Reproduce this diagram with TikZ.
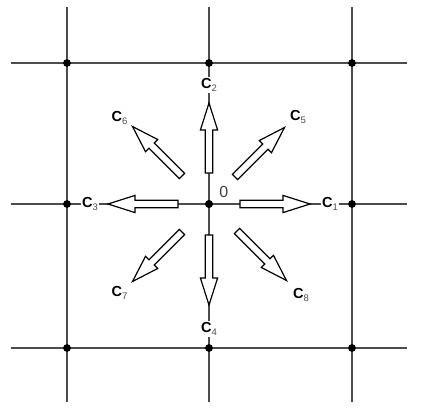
\documentclass[tikz,border=0pt]{standalone}
\usepackage{fontspec}
\setmainfont{Liberation Sans}
\newcommand{\clab}[1]{C\raisebox{-3.4pt}{\fontsize{9.5}{9.5}\selectfont\mdseries\color{black!70}#1}}
\begin{document}
\begin{tikzpicture}[x=1pt,y=-1pt,
  gridline/.style={draw=black!70, line width=1.1pt},
  dot/.style={circle, fill=black, inner sep=0pt, minimum size=7.8pt},
  blk/.style={draw=black, fill=white, line width=1.2pt, line join=miter},
  lab/.style={fill=white, inner sep=0.8pt, font=\fontsize{14.5}{14.5}\selectfont\bfseries},
  zerolab/.style={inner sep=0pt, text=black!75, font=\fontsize{16}{16}\selectfont},
  blockarrow/.pic={\path[blk] (0,-3.7) -- (43,-3.7) -- (43,-8.6) -- (70,0) -- (43,8.6) -- (43,3.7) -- (0,3.7) -- cycle;}]
\useasboundingbox (0,0) rectangle (421,418);
% grid line ends
\foreach \n/\x in {a/67,b/209,c/352}{
  \coordinate (v\n top) at (\x,7);
  \coordinate (v\n bot) at (\x,402);
}
\foreach \n/\y in {a/63,b/204,c/348}{
  \coordinate (h\n left) at (11,\y);
  \coordinate (h\n right) at (407,\y);
}
\foreach \n in {a,b,c}{
  \draw[gridline] (v\n top) -- (v\n bot);
  \draw[gridline] (h\n left) -- (h\n right);
}
% intersection dots
\foreach \n/\x in {a/67,b/209,c/352}{
  \foreach \m/\y in {a/63,b/204,c/348}{
    \node[dot] (d\n\m) at (\x,\y) {};
  }
}
% block arrows
\pic[rotate=0]   at (240,204) {blockarrow};
\pic[rotate=90]  at (209,173) {blockarrow};
\pic[rotate=180] at (178,204) {blockarrow};
\pic[rotate=-90] at (209,235) {blockarrow};
\pic[rotate=45]  at (235,177) {blockarrow};
\pic[rotate=135] at (182,176) {blockarrow};
\pic[rotate=225] at (182,232) {blockarrow};
\pic[rotate=-45] at (237,231) {blockarrow};
% centre dot redrawn on top
\node[dot] (o) at (209,204) {};
% labels
\node[lab] (c1) at (330,204) {\clab{1}};
\node[lab] (c2) at (209,85) {\clab{2}};
\node[lab] (c3) at (90,204) {\clab{3}};
\node[lab] (c4) at (209,329) {\clab{4}};
\node[lab] (c5) at (298,117) {\clab{5}};
\node[lab] (c6) at (119.5,118) {\clab{6}};
\node[lab] (c7) at (119.5,293) {\clab{7}};
\node[lab] (c8) at (301,295) {\clab{8}};
\node[zerolab] (zero) at (223.7,191.5) {0};
\end{tikzpicture}
\end{document}
